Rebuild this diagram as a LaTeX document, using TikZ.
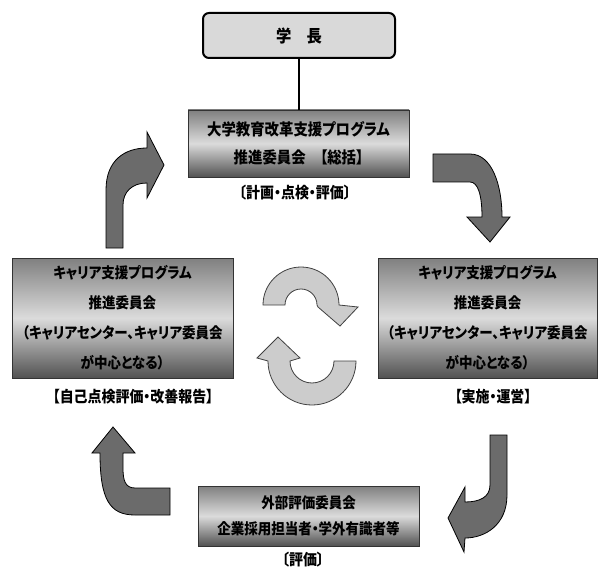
\documentclass[tikz,border=0pt]{standalone}
\usepackage{fontspec}
\usepackage{tikz}
\newfontfamily\jpfont[RawFeature=+palt, FakeStretch=0.9]{Noto Sans CJK JP}

\tikzset{
  chief/.style={draw=black, line width=2pt, rounded corners=6pt, fill=black!15,
    minimum width=192pt, minimum height=45pt, font=\jpfont\bfseries\fontsize{17}{18}\selectfont},
  panel/.style={draw=black!80, line width=0.8pt, top color=black!50, bottom color=black!68,
    middle color=black!14, minimum width=221pt, inner sep=0pt, align=center},
  tag/.style={font=\jpfont\bfseries\fontsize{15.5}{16}\selectfont},
  bigarrow/.style={draw=black, line width=0.8pt, fill=black!58},
  cycarrow/.style={draw=black!75, line width=0.8pt, fill=black!20}
}

\begin{document}
\begin{tikzpicture}[x=1pt, y=-1pt]
	\useasboundingbox (0,0) rectangle (600,575);

	\node[chief] (gakucho) at (299,35.5) {学　長};

	\node[panel, minimum height=67pt, font=\jpfont\bfseries\fontsize{16}{28}\selectfont]
		(suishin) at (298.5,143.5) {大学教育改革支援プログラム\\推進委員会　【総括】};
	\node[panel, minimum height=120pt, font=\jpfont\bfseries\fontsize{15}{30}\selectfont]
		(hyoka) at (122.5,318) {キャリア支援プログラム\\推進委員会\\（キャリアセンター、キャリア委員会\\が中心となる）};
	\node[panel, minimum width=219pt, minimum height=120pt, font=\jpfont\bfseries\fontsize{15}{30}\selectfont]
		(jisshi) at (487.5,318) {キャリア支援プログラム\\推進委員会\\（キャリアセンター、キャリア委員会\\が中心となる）};
	\node[panel, minimum height=60pt, font=\jpfont\bfseries\fontsize{15}{26}\selectfont]
		(gaibu) at (308.5,516) {外部評価委員会\\企業採用担当者・学外有識者等};

	\node[tag] (suishintag) at (295,193) {〔計画・点検・評価〕};
	\node[tag] (hyokatag) at (133,397) {【自己点検評価・改善報告】};
	\node[tag] (jisshitag) at (493,397) {【実施・運営】};
	\node[tag] (gaibutag) at (303,560) {〔評価〕};

	\draw[line width=1.6pt] (gakucho.south) -- (gakucho.south |- suishin.north);

	\draw[bigarrow] (106,248) -- (106,190) .. controls (106,160) and (125,148) .. (147,148)
		-- (147,132) -- (164,165) -- (147,198) -- (147,183)
		.. controls (132,183) and (123,192) .. (123,205) -- (123,248) -- cycle;
	\draw[bigarrow] (433,154) -- (470,154) .. controls (492,154) and (502,185) .. (502,217)
		-- (510,217) -- (490,242) -- (467,217) -- (482,217)
		.. controls (482,195) and (478,182) .. (470,182) -- (433,182) -- cycle;
	\draw[bigarrow] (490,435) -- (507,435) -- (507,495) .. controls (507,525) and (485,538) .. (465,538)
		-- (464,552) -- (448,518) -- (465,487) -- (465,502)
		.. controls (480,502) and (490,497) .. (490,485) -- cycle;
	\draw[bigarrow] (170,488) -- (135,488) .. controls (125,488) and (123,480) .. (123,468)
		-- (123,453) -- (135,453) -- (113,427) -- (92,453) -- (100,453)
		.. controls (100,500) and (110,515) .. (135,515) -- (170,515) -- cycle;

	\draw[cycarrow] (263,305) arc[start angle=180, end angle=360, radius=38]
		-- (358,307) -- (340,326) -- (318,307) -- (317,305)
		arc[start angle=0, end angle=-180, radius=16] -- cycle;
	\draw[cycarrow] (356,361) arc[start angle=0, end angle=180, radius=44]
		-- (257,358) -- (278,337) -- (300,358) -- (290,361)
		arc[start angle=180, end angle=0, radius=22] -- cycle;
\end{tikzpicture}
\end{document}
